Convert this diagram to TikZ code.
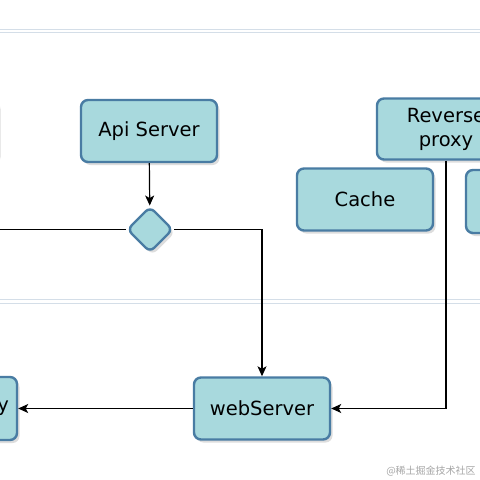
\documentclass[tikz,border=0pt]{standalone}
\usepackage{fontspec}
\setmainfont{DejaVu Sans}
\newfontfamily\cjkfont{Noto Sans CJK SC}
\usetikzlibrary{positioning}
\usetikzlibrary{shapes.geometric, arrows.meta, shadows}
\definecolor{boxfill}{RGB}{168,217,221}
\definecolor{boxline}{RGB}{73,124,163}
\definecolor{lane}{RGB}{212,222,232}
\tikzstyle{block} = [draw=boxline, fill=boxfill, line width=2.4pt, rounded corners=7pt, minimum width=136pt, minimum height=62pt, align=center, font=\fontsize{19.5}{24}\selectfont, drop shadow={shadow xshift=2.5pt, shadow yshift=-3pt, fill=black!60, opacity=0.22}]
\tikzstyle{gate} = [block, diamond, minimum width=46pt, minimum height=46pt, inner sep=0pt, rounded corners=6pt]
\tikzstyle{arrow} = [line width=1.2pt,-{Stealth[length=10pt,width=9pt,inset=2.5pt]}]
\tikzstyle{wire} = [line width=1.2pt]
\tikzstyle{lanebar} = [draw=lane, line width=0.9pt]

\begin{document}
\begin{tikzpicture}[x = 1pt, y = -1pt]
  \useasboundingbox (0,0) rectangle (480,480);
  \clip (0,0) rectangle (480,480);
  \fill[white] (0,0) rectangle (480,480);

  % Lanes
  \draw[lanebar] (0,29) -- (480,29);
  \draw[lanebar] (0,32) -- (480,32);
  \draw[lanebar] (0,299) -- (480,299);
  \draw[lanebar] (0,303) -- (480,303);

  % Blocks
  \node[block] (Hidden) at (-70,130) {};
  \node[block] (ApiServer) at (149,131) {Api Server};
  \node[gate] (Gate) at (150,229.5) {};
  \node[block, minimum width=138pt, minimum height=61pt] (RevProxy) at (446,129) {Reverse\\proxy};
  \node[block] (Cache) at (365,199.5) {Cache};
  \node[block, minimum height=63pt] (Side) at (534,201.5) {};
  \node[block] (WebServer) at (262,408.5) {webServer};
  \node[block, minimum height=63pt] (Proxy) at (-51,408.5) {\parbox{120pt}{\raggedleft y}};
  \coordinate (LaneIn) at (0,229.5);

  % Connectors
  \draw[arrow] (ApiServer) -- (Gate);
  \draw[wire] (Gate.west) -- (LaneIn);
  \draw[arrow] (Gate.east) -| (WebServer.north);
  \draw[arrow] (RevProxy.south) |- (WebServer.east);
  \draw[arrow] (WebServer) -- (Proxy);

  % Watermark
  \node[font=\cjkfont\fontsize{10}{10}\selectfont, text=black!35] (Mark) at (431,471) {@稀土掘金技术社区};
\end{tikzpicture}
\end{document}
